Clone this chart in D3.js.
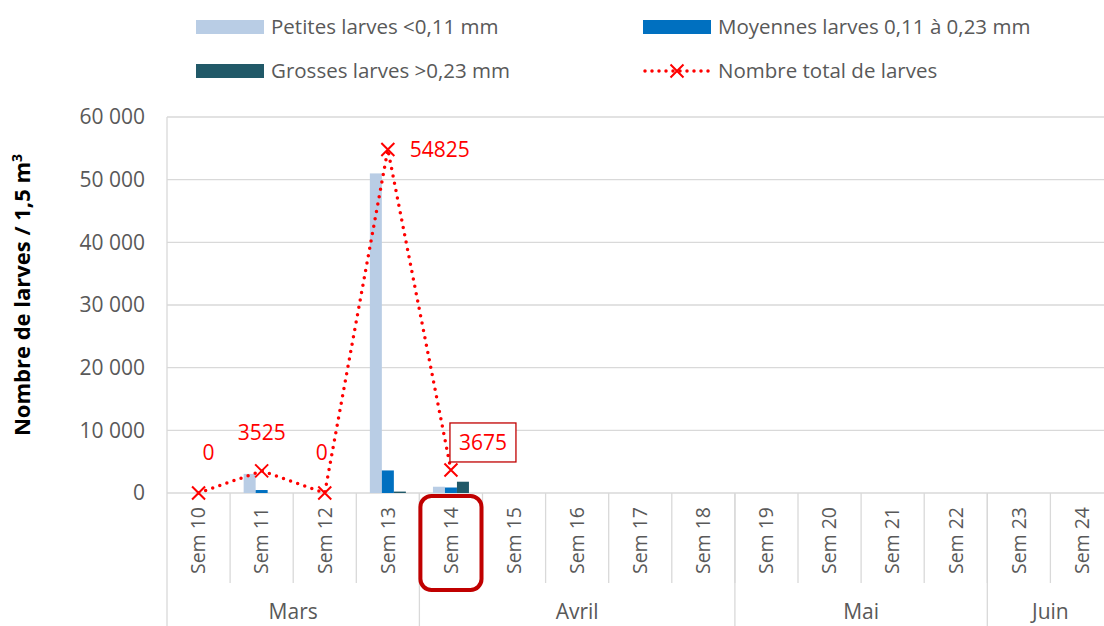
<!DOCTYPE html>
<html>
<head>
<meta charset="utf-8">
<script src="https://cdn.jsdelivr.net/npm/d3@7"></script>
<style>
  body { margin: 0; background: #fff; }
  svg { display: block; font-family: "Open Sans", sans-serif; }
</style>
</head>
<body>
<svg id="viz" width="1104" height="626"></svg>
<script>
// chart values
let weeks = ["Sem 10","Sem 11","Sem 12","Sem 13","Sem 14","Sem 15","Sem 16","Sem 17",
             "Sem 18","Sem 19","Sem 20","Sem 21","Sem 22","Sem 23","Sem 24"];
let monthNames = ["Mars","Avril","Mai","Juin"];
let monthWeeks = [4, 5, 4, 2];
let petites  = [0, 3050, 0, 51000, 1000];
let moyennes = [0, 475, 0, 3600, 875];
let grosses  = [0, 0, 0, 225, 1800];
let totals   = [0, 3525, 0, 54825, 3675];
let yTicks = [0, 10000, 20000, 30000, 40000, 50000, 60000];
let seriesNames = ["Petites larves <0,11 mm","Moyennes larves 0,11 à 0,23 mm",
                   "Grosses larves >0,23 mm","Nombre total de larves"];

let colors = ["#B9CDE5", "#0070C0", "#215968"];
let red = "#FF0000";
let textCol = "#595959";

let svg = d3.select("#viz");
let plotLeft = 167, plotTop = 117, plotBottom = 493;
let bandW = 63.1;

let x = d3.scaleBand().domain(weeks).range([plotLeft, plotLeft + bandW * weeks.length]).padding(0);
let y = d3.scaleLinear().domain([0, 60000]).range([plotBottom, plotTop]);
let inner = d3.scaleBand().domain([0, 1, 2]).range([-18, 18]).padding(0);

let fmt = v => d3.format(",")(v).replace(/,/g, " ");

// gridlines
svg.append("g").selectAll("line").data(yTicks).enter().append("line")
  .attr("x1", plotLeft).attr("x2", 1104)
  .attr("y1", d => y(d)).attr("y2", d => y(d))
  .attr("stroke", "#D9D9D9").attr("stroke-width", 1.3);

// y tick labels
svg.append("g").selectAll("text").data(yTicks).enter().append("text")
  .attr("x", 145).attr("y", d => y(d)).attr("dy", "0.35em")
  .attr("text-anchor", "end").attr("font-size", 21).attr("fill", textCol)
  .text(d => fmt(d));

// y axis title
svg.append("text")
  .attr("transform", "translate(30,295) rotate(-90)")
  .attr("text-anchor", "middle").attr("font-size", 22).attr("font-weight", "bold")
  .attr("fill", "#000")
  .html("Nombre de larves / 1,5 m<tspan dy='-8' font-size='14'>3</tspan>");

// axis line
svg.append("line").attr("x1", plotLeft).attr("x2", plotLeft).attr("y1", plotTop).attr("y2", 626)
  .attr("stroke", "#D9D9D9").attr("stroke-width", 1.3);

// week separators
svg.append("g").selectAll("line").data(weeks.slice(1)).enter().append("line")
  .attr("x1", d => x(d)).attr("x2", d => x(d))
  .attr("y1", plotBottom).attr("y2", 583)
  .attr("stroke", "#D9D9D9").attr("stroke-width", 1.3);

// month separators and labels
let start = 0;
monthNames.forEach((m, i) => {
  let x0 = x(weeks[start]);
  let end = start + monthWeeks[i];
  let x1 = end < weeks.length ? x(weeks[end]) : x(weeks[end - 1]) + x.bandwidth();
  if (end < weeks.length) {
    svg.append("line").attr("x1", x1).attr("x2", x1).attr("y1", plotBottom).attr("y2", 626)
      .attr("stroke", "#D9D9D9").attr("stroke-width", 1.3);
  }
  svg.append("text").attr("x", (x0 + x1) / 2).attr("y", 612).attr("dy", "0.35em")
    .attr("text-anchor", "middle").attr("font-size", 21).attr("fill", textCol).text(m);
  start = end;
});

// week labels
svg.append("g").selectAll("text").data(weeks).enter().append("text")
  .attr("transform", d => "translate(" + (x(d) + x.bandwidth() / 2) + ",507) rotate(-90)")
  .attr("dy", "0.35em").attr("text-anchor", "end")
  .attr("font-size", 19.5).attr("fill", textCol).text(d => d);

// bars
[petites, moyennes, grosses].forEach((vals, s) => {
  svg.append("g").selectAll("rect").data(vals).enter().append("rect")
    .attr("x", (d, i) => x(weeks[i]) + x.bandwidth() / 2 + inner(s))
    .attr("width", inner.bandwidth())
    .attr("y", d => y(d))
    .attr("height", d => plotBottom - y(d))
    .attr("fill", colors[s]);
});

// total line
let line = d3.line().x((d, i) => x(weeks[i]) + x.bandwidth() / 2).y(d => y(d));
svg.append("path").datum(totals).attr("d", line)
  .attr("fill", "none").attr("stroke", red).attr("stroke-width", 3.5)
  .attr("stroke-linecap", "round").attr("stroke-dasharray", "0,7.5");

function cross(g, cx, cy, r) {
  g.append("path").attr("d", `M${cx - r},${cy - r}L${cx + r},${cy + r}M${cx - r},${cy + r}L${cx + r},${cy - r}`)
    .attr("stroke", red).attr("stroke-width", 2).attr("fill", "none");
}
let marks = svg.append("g");
totals.forEach((d, i) => cross(marks, x(weeks[i]) + x.bandwidth() / 2, y(d), 6.5));

// data labels
let labelOffsets = [[10, -40, "middle"], [0, -38, "middle"], [-3, -40, "middle"], [22, 0, "start"], [32, -27, "middle"]];
totals.forEach((d, i) => {
  let cx = x(weeks[i]) + x.bandwidth() / 2 + labelOffsets[i][0];
  let cy = y(d) + labelOffsets[i][1];
  if (i === 4) {
    svg.append("rect").attr("x", cx - 33).attr("y", cy - 20).attr("width", 66).attr("height", 39)
      .attr("fill", "#fff").attr("stroke", "#C00000").attr("stroke-width", 1.3);
  }
  svg.append("text").attr("x", cx).attr("y", cy).attr("dy", "0.35em")
    .attr("text-anchor", labelOffsets[i][2]).attr("font-size", 21).attr("fill", red).text(d);
});

// highlight box around Sem 14
svg.append("rect")
  .attr("x", x("Sem 14") + 1).attr("y", 496)
  .attr("width", x.bandwidth() - 2).attr("height", 94)
  .attr("rx", 11).attr("fill", "none").attr("stroke", "#C00000").attr("stroke-width", 4);

// legend
let legendPos = [[196, 27], [643, 27], [196, 71], [643, 71]];
seriesNames.forEach((name, i) => {
  let [lx, ly] = legendPos[i];
  let g = svg.append("g");
  if (i < 3) {
    g.append("rect").attr("x", lx).attr("y", ly - 7).attr("width", 68).attr("height", 14).attr("fill", colors[i]);
  } else {
    g.append("line").attr("x1", lx + 2).attr("x2", lx + 66).attr("y1", ly).attr("y2", ly)
      .attr("stroke", red).attr("stroke-width", 3.5).attr("stroke-linecap", "round")
      .attr("stroke-dasharray", "0,7");
    cross(g, lx + 34, ly, 6.5);
  }
  g.append("text").attr("x", lx + 75).attr("y", ly).attr("dy", "0.35em")
    .attr("font-size", 20.5).attr("fill", textCol).text(name);
});
</script>
</body>
</html>
